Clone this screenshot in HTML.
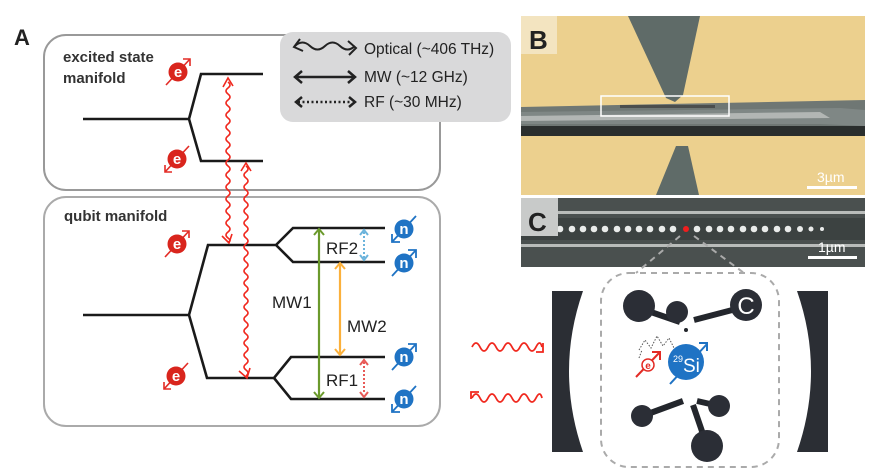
<!DOCTYPE html>
<html><head><meta charset="utf-8"><style>
html,body{margin:0;padding:0;background:#fff;}
svg{display:block;font-family:"Liberation Sans",sans-serif;}
</style></head><body>
<svg width="881" height="470" viewBox="0 0 881 470" xmlns="http://www.w3.org/2000/svg">
<defs>
  <g id="eU"><line x1="-12" y1="13" x2="12" y2="-13" stroke="#e32b25" stroke-width="1.6"/><path d="M5,-13 L12,-13 L12,-6" fill="none" stroke="#e32b25" stroke-width="1.6"/><circle r="9.5" fill="#d9251d"/><text x="0" y="5" font-size="15" font-weight="bold" fill="#fff" text-anchor="middle">e</text></g>
  <g id="eD"><line x1="-12" y1="13" x2="12" y2="-13" stroke="#e32b25" stroke-width="1.6"/><path d="M-12,6 L-12,13 L-5,13" fill="none" stroke="#e32b25" stroke-width="1.6"/><circle r="9.5" fill="#d9251d"/><text x="0" y="5" font-size="15" font-weight="bold" fill="#fff" text-anchor="middle">e</text></g>
  <g id="nU"><line x1="-12" y1="13" x2="12" y2="-13" stroke="#1f73c4" stroke-width="1.8"/><path d="M4,-13 L12,-13 L12,-5" fill="none" stroke="#1f73c4" stroke-width="1.8"/><circle r="9.5" fill="#1f73c4"/><text x="0" y="5" font-size="15" font-weight="bold" fill="#fff" text-anchor="middle">n</text></g>
  <g id="nD"><line x1="-12" y1="13" x2="12" y2="-13" stroke="#1f73c4" stroke-width="1.8"/><path d="M-12,5 L-12,13 L-4,13" fill="none" stroke="#1f73c4" stroke-width="1.8"/><circle r="9.5" fill="#1f73c4"/><text x="0" y="5" font-size="15" font-weight="bold" fill="#fff" text-anchor="middle">n</text></g>
</defs>

<text x="14" y="45" font-size="22" font-weight="bold" fill="#222">A</text>

<rect x="44" y="35" width="396" height="155" rx="22" fill="#fff" stroke="#999" stroke-width="2"/>
<text x="63" y="62" font-size="15" font-weight="bold" fill="#333">excited state</text>
<text x="63" y="83" font-size="15" font-weight="bold" fill="#333">manifold</text>
<path d="M83,119 H189 L201,74 H263 M189,119 L201,161 H263" fill="none" stroke="#1a1a1a" stroke-width="2.6"/>
<use href="#eU" x="178" y="72"/>
<use href="#eD" x="177" y="159"/>

<rect x="280" y="32" width="231" height="90" rx="13" fill="#d9d9da"/>
<path d="M295,46 q7.5,-7 15,0 t15,0 t15,0 t15,0" fill="none" stroke="#222" stroke-width="2"/>
<path d="M300,39 L294,47 L303,51" fill="none" stroke="#222" stroke-width="2"/>
<path d="M348,41 L356,48 L349,55" fill="none" stroke="#222" stroke-width="2"/>
<text x="364" y="54" font-size="15.5" fill="#222">Optical (~406 THz)</text>
<line x1="295" y1="77" x2="355" y2="77" stroke="#222" stroke-width="2.5"/>
<path d="M302,71 L295,77 L302,83 M348,71 L355,77 L348,83" fill="none" stroke="#222" stroke-width="2.5"/>
<text x="364" y="82" font-size="15.5" fill="#222">MW (~12 GHz)</text>
<line x1="298" y1="102" x2="352" y2="102" stroke="#222" stroke-width="2.5" stroke-dasharray="2,2.5"/>
<path d="M302,97 L296,102 L302,107 M349,97 L355,102 L349,107" fill="none" stroke="#222" stroke-width="2.5"/>
<text x="364" y="107" font-size="15.5" fill="#222">RF (~30 MHz)</text>

<rect x="44" y="197" width="396" height="229" rx="22" fill="#fff" stroke="#aaa" stroke-width="2"/>
<text x="64" y="221" font-size="15" font-weight="bold" fill="#333">qubit manifold</text>
<path d="M83,315 H189 L208,245 H276 L293,228 H385 M276,245 L293,262 H385 M189,315 L207,378 H274 L291,357 H385 M274,378 L291,399 H385" fill="none" stroke="#1a1a1a" stroke-width="2.6"/>
<use href="#eU" x="177" y="244"/>
<use href="#eD" x="176" y="376"/>

<path d="M228,82 q4,3 0,6 q-4,3 0,6 q4,3 0,6 q-4,3 0,6 q4,3 0,6 q-4,3 0,6 q4,3 0,6 q-4,3 0,6 q4,3 0,6 q-4,3 0,6 q4,3 0,6 q-4,3 0,6 q4,3 0,6 q-4,3 0,6 q4,3 0,6 q-4,3 0,6 q4,3 0,6 q-4,3 0,6 q4,3 0,6 q-4,3 0,6 q4,3 0,6 q-4,3 0,6 q4,3 0,6 q-4,3 0,6 q4,3 0,6 q-4,3 0,6 q4,3 0,4" fill="none" stroke="#f0281e" stroke-width="1.6"/>
<path d="M223,87 L228,78 L233,86 M222,236 L229,243 L232,234" fill="none" stroke="#f0281e" stroke-width="1.6"/>
<path d="M246,166 q4,3 0,6 q-4,3 0,6 q4,3 0,6 q-4,3 0,6 q4,3 0,6 q-4,3 0,6 q4,3 0,6 q-4,3 0,6 q4,3 0,6 q-4,3 0,6 q4,3 0,6 q-4,3 0,6 q4,3 0,6 q-4,3 0,6 q4,3 0,6 q-4,3 0,6 q4,3 0,6 q-4,3 0,6 q4,3 0,6 q-4,3 0,6 q4,3 0,6 q-4,3 0,6 q4,3 0,6 q-4,3 0,6 q4,3 0,6 q-4,3 0,6 q4,3 0,6 q-4,3 0,6 q4,3 0,6 q-4,3 0,6 q4,3 0,6 q-4,3 0,6 q4,3 0,6 q-4,3 0,6 q4,3 0,6" fill="none" stroke="#f0281e" stroke-width="1.6"/>
<path d="M241,171 L246,163 L251,171 M239,371 L247,378 L250,368" fill="none" stroke="#f0281e" stroke-width="1.6"/>

<line x1="319" y1="230" x2="319" y2="397" stroke="#6b9a2c" stroke-width="2.2"/>
<path d="M314,235 L319,229 L324,235 M314,392 L319,398 L324,392" fill="none" stroke="#6b9a2c" stroke-width="2"/>
<line x1="340" y1="264" x2="340" y2="354" stroke="#fbb03b" stroke-width="2.2"/>
<path d="M335,269 L340,263 L345,269 M335,349 L340,355 L345,349" fill="none" stroke="#fbb03b" stroke-width="2"/>
<line x1="364" y1="232" x2="364" y2="258" stroke="#6cb4dc" stroke-width="2" stroke-dasharray="2,2"/>
<path d="M360,235 L364,230 L368,235 M360,255 L364,260 L368,255" fill="none" stroke="#6cb4dc" stroke-width="2"/>
<line x1="364" y1="362" x2="364" y2="394" stroke="#e85a57" stroke-width="2" stroke-dasharray="2,2"/>
<path d="M360,365 L364,360 L368,365 M360,392 L364,397 L368,392" fill="none" stroke="#e85a57" stroke-width="2"/>
<text x="326" y="254" font-size="17" fill="#222">RF2</text>
<text x="272" y="308" font-size="17" fill="#222">MW1</text>
<text x="347" y="332" font-size="17" fill="#222">MW2</text>
<text x="326" y="386" font-size="17" fill="#222">RF1</text>
<use href="#nD" x="404" y="229"/>
<use href="#nU" x="404" y="263"/>
<use href="#nU" x="404" y="357"/>
<use href="#nD" x="404" y="399"/>

<rect x="521" y="16" width="344" height="179" fill="#ecd08e"/>
<polygon points="628,16 700,16 683,95 675,102 666,98" fill="#5f6b68"/>
<polygon points="521,107 865,100 865,132 521,135" fill="#6f7774"/>
<rect x="521" y="126" width="344" height="10" fill="#2a2e2d"/>
<polygon points="521,112 840,108 865,110 865,126 820,124 521,124" fill="#7f8785"/>
<polygon points="521,116 820,112 830,118 521,121" fill="#c8cbc7" opacity="0.7"/>
<rect x="620" y="105" width="95" height="3" fill="#333" opacity="0.6"/>
<polygon points="676,146 688,146 699,195 656,195" fill="#5f6b68"/>
<rect x="521" y="16" width="36" height="38" fill="#f3e4c0"/>
<text x="529" y="49" font-size="26" font-weight="bold" fill="#222">B</text>
<rect x="601" y="96" width="128" height="20" fill="none" stroke="#fff" stroke-width="1.5"/>
<text x="817" y="182" font-size="14" fill="#fff">3µm</text>
<rect x="807" y="186" width="50" height="3" fill="#fff"/>

<rect x="521" y="198" width="344" height="69" fill="#4a504f"/>
<rect x="521" y="211" width="344" height="3" fill="#b9bcba"/>
<rect x="521" y="244" width="344" height="3" fill="#b9bcba"/>
<rect x="521" y="218" width="344" height="22" fill="#3c4241"/>
<g fill="#e9ebea">
<circle cx="527" cy="229" r="3.3"/><circle cx="538" cy="229" r="3.3"/><circle cx="549" cy="229" r="3.3"/><circle cx="560" cy="229" r="3.3"/><circle cx="572" cy="229" r="3.3"/><circle cx="583" cy="229" r="3.3"/><circle cx="594" cy="229" r="3.3"/><circle cx="605" cy="229" r="3.3"/><circle cx="617" cy="229" r="3.3"/><circle cx="628" cy="229" r="3.3"/><circle cx="639" cy="229" r="3.3"/><circle cx="650" cy="229" r="3.3"/><circle cx="662" cy="229" r="3.3"/><circle cx="673" cy="229" r="3.3"/><circle cx="697" cy="229" r="3.3"/><circle cx="709" cy="229" r="3.3"/><circle cx="720" cy="229" r="3.3"/><circle cx="731" cy="229" r="3.3"/><circle cx="743" cy="229" r="3.3"/><circle cx="754" cy="229" r="3.3"/><circle cx="765" cy="229" r="3.3"/><circle cx="777" cy="229" r="3.3"/><circle cx="788" cy="229" r="3.3"/><circle cx="800" cy="229" r="3"/><circle cx="811" cy="229" r="2.5"/><circle cx="822" cy="229" r="2"/>
</g>
<circle cx="686" cy="229" r="3" fill="#f01e1e"/>
<rect x="521" y="198" width="37" height="38" fill="#c8cac9"/>
<text x="528" y="231" font-size="26" font-weight="bold" fill="#222">C</text>
<text x="818" y="252" font-size="14" fill="#fff">1µm</text>
<rect x="808" y="256" width="49" height="3" fill="#fff"/>
<path d="M680,236 L636,273 M694,236 L744,273" stroke="#aaa" stroke-width="2" stroke-dasharray="6,5"/>

<path d="M552,291 H583 Q555,371 583,452 H552 Z" fill="#2b2e34"/>
<path d="M828,291 H797 Q825,371 797,452 H828 Z" fill="#2b2e34"/>
<rect x="601" y="273" width="178" height="194" rx="28" fill="none" stroke="#aaa" stroke-width="2" stroke-dasharray="6,5"/>
<path d="M472,347 q4,-8 8,0 t8,0 t8,0 t8,0 t8,0 t8,0 t8,0 t8,0 t6,0" fill="none" stroke="#f0281e" stroke-width="1.8"/>
<path d="M536,352 L543,352 L543,343" fill="none" stroke="#f0281e" stroke-width="1.8"/>
<path d="M472,398 q4,-8 8,0 t8,0 t8,0 t8,0 t8,0 t8,0 t8,0 t8,0 t6,0" fill="none" stroke="#f0281e" stroke-width="1.8"/>
<path d="M471,399 L471,392 L479,392" fill="none" stroke="#f0281e" stroke-width="1.8"/>

<g stroke="#23262c" stroke-width="6" stroke-linecap="butt">
<line x1="645" y1="310" x2="680" y2="322"/><line x1="677" y1="311" x2="680" y2="322"/><line x1="694" y1="320" x2="740" y2="308"/>
<line x1="645" y1="415" x2="683" y2="401"/><line x1="697" y1="401" x2="719" y2="406"/><line x1="693" y1="405" x2="705" y2="440"/>
</g>
<circle cx="639" cy="306" r="16" fill="#2b2e36"/>
<circle cx="677" cy="312" r="11" fill="#2b2e36"/>
<circle cx="746" cy="305" r="16" fill="#2b2e36"/>
<text x="746" y="314" font-size="24" fill="#fff" text-anchor="middle">C</text>
<circle cx="642" cy="416" r="11" fill="#2b2e36"/>
<circle cx="719" cy="406" r="11" fill="#2b2e36"/>
<circle cx="707" cy="446" r="16" fill="#2b2e36"/>
<circle cx="686" cy="330" r="2" fill="#23262c"/>
<path d="M639,350 l6,-10 l6,8 l6,-12 l6,10 l6,-8 l5,10 M639,358 l3,-8" fill="none" stroke="#555" stroke-width="1" stroke-dasharray="1.5,1.5"/>
<circle cx="686" cy="362" r="18" fill="#1f73c4"/>
<line x1="670" y1="384" x2="707" y2="344" stroke="#1f73c4" stroke-width="2"/>
<path d="M699,343 L707,343 L707,351" fill="none" stroke="#1f73c4" stroke-width="2"/>
<text x="673" y="362" font-size="9" fill="#fff">29</text>
<text x="683" y="372" font-size="19" fill="#fff">Si</text>
<line x1="636" y1="377" x2="660" y2="352" stroke="#e32b25" stroke-width="2"/>
<path d="M652,352 L660,352 L660,360" fill="none" stroke="#e32b25" stroke-width="2"/>
<circle cx="648" cy="365" r="6" fill="#fff" stroke="#e32b25" stroke-width="1.5"/>
<text x="648" y="369" font-size="10" fill="#e32b25" text-anchor="middle" font-weight="bold">e</text>
</svg>
</body></html>
